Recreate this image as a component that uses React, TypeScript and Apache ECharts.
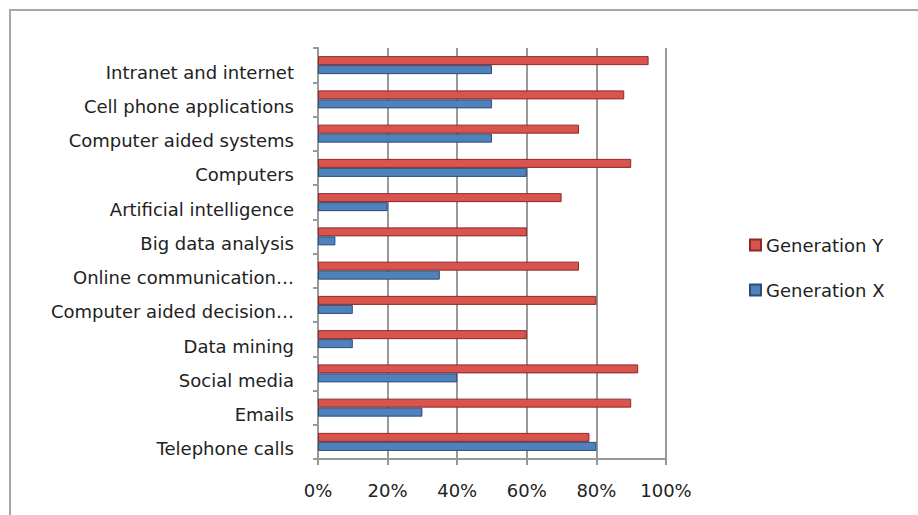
import React, { useEffect, useRef } from "react";
import * as echarts from "echarts";

const categories = [
  "Telephone calls",
  "Emails",
  "Social media",
  "Data mining",
  "Computer aided decision…",
  "Online communication…",
  "Big data analysis",
  "Artificial intelligence",
  "Computers",
  "Computer aided systems",
  "Cell phone applications",
  "Intranet and internet",
];
const generationY = [78, 90, 92, 60, 80, 75, 60, 70, 90, 75, 88, 95];
const generationX = [80, 30, 40, 10, 10, 35, 5, 20, 60, 50, 50, 50];
const xTicks = [0, 20, 40, 60, 80, 100];

export default function App() {
  const ref = useRef<HTMLDivElement>(null);
  useEffect(() => {
    if (!ref.current) return;
    const chart = echarts.init(ref.current, undefined, { renderer: "svg" });
    const font = "DejaVu Sans";
    chart.setOption({
      animation: false,
      backgroundColor: "#ffffff",
      graphic: [
        {
          type: "rect",
          shape: { x: 10, y: 10, width: 920, height: 520 },
          style: { fill: "none", stroke: "#a6a6a6", lineWidth: 2 },
          z: -10,
        },
      ],
      legend: {
        data: ["Generation Y", "Generation X"],
        orient: "vertical",
        left: 744,
        top: 231,
        itemWidth: 11,
        itemHeight: 11,
        itemGap: 27,
        icon: "rect",
        textStyle: { fontFamily: font, fontSize: 18, color: "#222" },
      },
      grid: { left: 318, top: 48, width: 348, height: 411, containLabel: false },
      xAxis: {
        type: "value",
        min: 0,
        max: 100,
        interval: 20,
        axisLine: { show: true, lineStyle: { color: "#999", width: 2 } },
        axisTick: { show: true, length: 6, lineStyle: { color: "#999", width: 2 } },
        splitLine: { show: true, lineStyle: { color: "#999", width: 2 } },
        axisLabel: {
          formatter: (v: number) => (xTicks.includes(v) ? v + "%" : ""),
          fontFamily: font,
          fontSize: 18,
          color: "#222",
          margin: 22,
        },
      },
      yAxis: {
        type: "category",
        data: categories,
        axisLine: { show: true, lineStyle: { color: "#999", width: 2 } },
        axisTick: { show: true, length: 5, lineStyle: { color: "#999", width: 2 } },
        axisLabel: {
          fontFamily: font,
          fontSize: 18,
          color: "#222",
          margin: 24,
          verticalAlign: "top",
          lineHeight: 14,
        },
        splitLine: { show: false },
      },
      series: [
        {
          name: "Generation Y",
          type: "bar",
          data: generationY,
          barWidth: 9,
          barGap: "0%",
          itemStyle: { color: "#d9534f", borderColor: "#8c2a27", borderWidth: 1 },
        },
        {
          name: "Generation X",
          type: "bar",
          data: generationX,
          barWidth: 9,
          barGap: "0%",
          itemStyle: { color: "#4f81bd", borderColor: "#2c4d75", borderWidth: 1 },
        },
      ],
    });
    return () => chart.dispose();
  }, []);
  return (
    <div
      ref={ref}
      style={{ position: "fixed", left: 0, top: 0, width: 918, height: 515 }}
    />
  );
}
